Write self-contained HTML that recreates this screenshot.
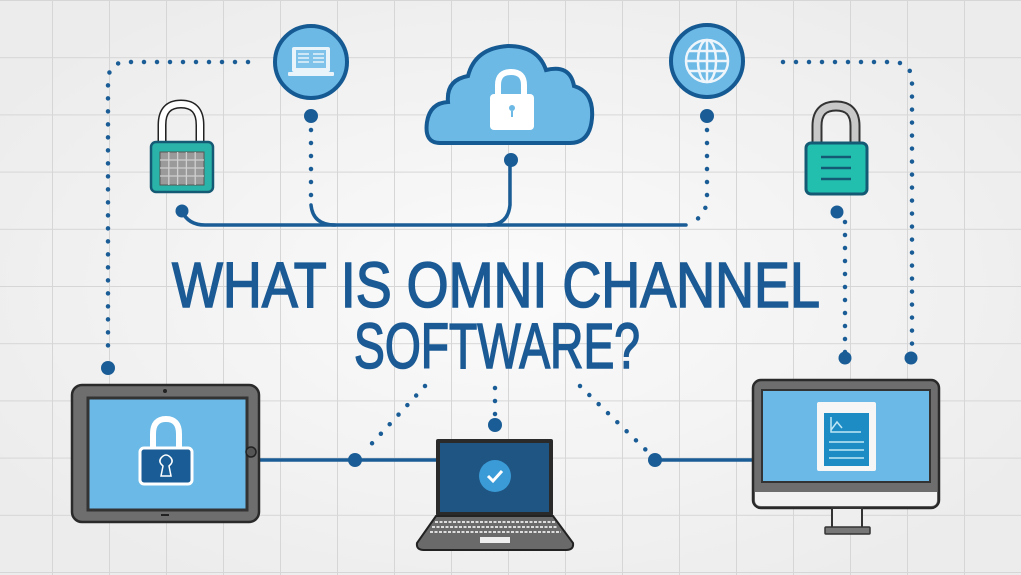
<!DOCTYPE html>
<html><head><meta charset="utf-8"><style>
html,body{margin:0;padding:0;background:#f1f1f1;}
svg{display:block}
</style></head><body>
<svg width="1021" height="575" viewBox="0 0 1021 575" xmlns="http://www.w3.org/2000/svg">
<defs>
<radialGradient id="bg" cx="50%" cy="50%" r="60%">
<stop offset="0" stop-color="#fbfbfb"/><stop offset="1" stop-color="#ececec"/></radialGradient>
<pattern id="grid" x="52" y="0" width="57" height="57.2" patternUnits="userSpaceOnUse">
<path d="M0 0V58M0 0H58" stroke="#d6d6d6" stroke-width="2" fill="none"/></pattern>
</defs>
<rect width="1021" height="575" fill="url(#bg)"/>
<rect width="1021" height="575" fill="url(#grid)"/>

<g fill="none" stroke="#1a5d96" stroke-linecap="round">
<g stroke-width="4.5" stroke-dasharray="0 13">
<path d="M248 62H127Q108 62 108 82V355"/>
<path d="M311 130V198"/>
<path d="M707 130V198Q707 215 690 224"/>
<path d="M783 62H892Q912 62 912 82V355"/>
<path d="M845 222V355"/>
<path d="M425 386L364 452"/>
<path d="M495 388V418"/>
<path d="M580 386L648 452"/>
</g>
<g stroke-width="3.5">
<path d="M182 211Q188 225 205 225H686"/>
<path d="M311 205Q313 225 335 225"/>
<path d="M510 160V205Q508 225 488 225"/>
<path d="M259 460H436"/>
<path d="M655 460H753"/>
</g>
</g>
<g fill="#1a5d96">
<circle cx="311" cy="116" r="7"/><circle cx="707" cy="116" r="7"/>
<circle cx="182" cy="211" r="6.5"/><circle cx="837" cy="212" r="6.5"/>
<circle cx="511" cy="160" r="7"/>
<circle cx="108" cy="368" r="7"/><circle cx="845" cy="358" r="6.5"/><circle cx="911" cy="358" r="6.5"/>
<circle cx="355" cy="460" r="7"/><circle cx="655" cy="460" r="7"/><circle cx="495" cy="425" r="7"/>
</g>

<circle cx="311" cy="62" r="36" fill="#6cb9e6" stroke="#155a92" stroke-width="4"/>
<rect x="292" y="47" width="38" height="25" rx="2" fill="#e8f3fa"/>
<rect x="296" y="50" width="30" height="18" fill="#7fc2ea"/>
<g stroke="#e8f3fa" stroke-width="1.5"><path d="M298 54h11M313 54h11M298 58h11M313 58h11M298 62h11M313 62h11"/></g>
<rect x="288" y="72" width="46" height="4" rx="1" fill="#e8f3fa"/>

<circle cx="707" cy="61" r="36" fill="#6cb9e6" stroke="#155a92" stroke-width="4"/>
<g fill="none" stroke="#eef6fb" stroke-width="2.5">
<circle cx="707" cy="61" r="21"/><ellipse cx="707" cy="61" rx="9" ry="21"/>
<path d="M686 61H728M689 51H725M689 71H725M707 40V82"/></g>

<path d="M440 143Q424 143 427 122Q430 103 448 102Q446 80 468 76Q475 48 508 46Q538 46 546 70Q570 64 574 86Q594 92 592 118Q590 143 570 143Z" fill="#6cb9e6" stroke="#155a92" stroke-width="4"/>
<path d="M498 96V85Q498 72 511 72Q524 72 524 85V96" fill="none" stroke="#fff" stroke-width="6"/>
<rect x="490" y="94" width="44" height="36" rx="4" fill="#fff"/>
<circle cx="512" cy="108" r="3" fill="#6cb9e6"/><rect x="511" y="111" width="2" height="6" fill="#6cb9e6"/>

<path d="M162 143V125Q162 104 181 104Q200 104 200 125V143" fill="none" stroke="#222" stroke-width="9"/>
<path d="M162 143V125Q162 104 181 104Q200 104 200 125V143" fill="none" stroke="#fff" stroke-width="6"/>
<rect x="151" y="142" width="62" height="50" rx="5" fill="#2ab3a8" stroke="#145a74" stroke-width="2.5"/>
<rect x="160" y="152" width="44" height="33" fill="#9a9a9a" stroke="#555" stroke-width="1"/>
<g stroke="#cfcfcf" stroke-width="1.3"><path d="M160 160H204M160 168H204M160 176H204M168.8 152V185M177.6 152V185M186.4 152V185M195.2 152V185"/></g>

<path d="M817 144V126Q817 106 836 106Q855 106 855 126V144" fill="none" stroke="#333" stroke-width="11"/>
<path d="M817 144V126Q817 106 836 106Q855 106 855 126V144" fill="none" stroke="#c8c8c8" stroke-width="7"/>
<rect x="806" y="143" width="61" height="51" rx="5" fill="#22bfae" stroke="#145a74" stroke-width="3"/>
<g stroke="#145a74" stroke-width="2.5"><path d="M821 157H851M821 168H851M821 179H851"/></g>

<g fill="#1b5a94" stroke="#1b5a94" stroke-width="1.6" font-family="Liberation Sans, sans-serif" font-size="64">
<text x="172" y="307" textLength="648" lengthAdjust="spacingAndGlyphs">WHAT IS OMNI CHANNEL</text>
<text x="354" y="368" textLength="286" lengthAdjust="spacingAndGlyphs">SOFTWARE?</text>
</g>

<rect x="72" y="385" width="187" height="137" rx="10" fill="#6e6e6e" stroke="#2a2a2a" stroke-width="2.5"/>
<rect x="88" y="398" width="159" height="112" fill="#6bb9e6" stroke="#333" stroke-width="3"/>
<circle cx="165" cy="391" r="2" fill="#222"/>
<circle cx="251" cy="452" r="5" fill="#555" stroke="#222" stroke-width="1.5"/>
<rect x="161" y="514" width="8" height="2" fill="#222"/>
<path d="M153 450V434Q153 419 166 419Q179 419 179 434V450" fill="none" stroke="#fff" stroke-width="6"/>
<rect x="140" y="448" width="52" height="36" rx="4" fill="#1a5d96" stroke="#fff" stroke-width="3"/>
<path d="M161 476L163 466Q158 462 161 458Q166 452 171 458Q174 462 169 466L171 476Z" fill="none" stroke="#fff" stroke-width="1.5"/>

<rect x="436" y="439" width="117" height="77" fill="#2a2a2a" rx="2"/>
<rect x="440" y="443" width="109" height="69" fill="#1f5583"/>
<circle cx="495" cy="476" r="16" fill="#3a9bd6"/>
<path d="M488 476L493 481L502 471" fill="none" stroke="#fff" stroke-width="3"/>
<path d="M436 516H553L573 543Q574 550 566 550H424Q416 550 417 543Z" fill="#6a6a6a" stroke="#222" stroke-width="2"/>
<g stroke="#ddd" stroke-width="2" stroke-dasharray="3 1.5"><path d="M435 522H555M432 527H558M430 532H561"/></g>
<rect x="480" y="537" width="30" height="6" fill="#eee"/>

<rect x="753" y="380" width="186" height="128" rx="8" fill="#6e6e6e" stroke="#2a2a2a" stroke-width="2.5"/>
<rect x="762" y="390" width="168" height="92" fill="#6bb9e6" stroke="#333" stroke-width="2"/>
<path d="M755 492H937V500Q937 506 931 506H761Q755 506 755 500Z" fill="#f2f2f2"/>
<rect x="832" y="508" width="30" height="20" fill="#eee" stroke="#333" stroke-width="2"/>
<rect x="825" y="527" width="45" height="7" rx="1" fill="#777" stroke="#333" stroke-width="1.5"/>
<rect x="817" y="402" width="59" height="69" rx="2" fill="#f6f6f6"/>
<rect x="824" y="413" width="45" height="53" fill="#1e8cc4"/>
<g stroke="#bfe6f5" stroke-width="1.5" fill="none"><path d="M831 417V432H861M831 430L837 422L842 428M829 442H864M829 450H864M829 458H864"/></g>
</svg>
</body></html>
